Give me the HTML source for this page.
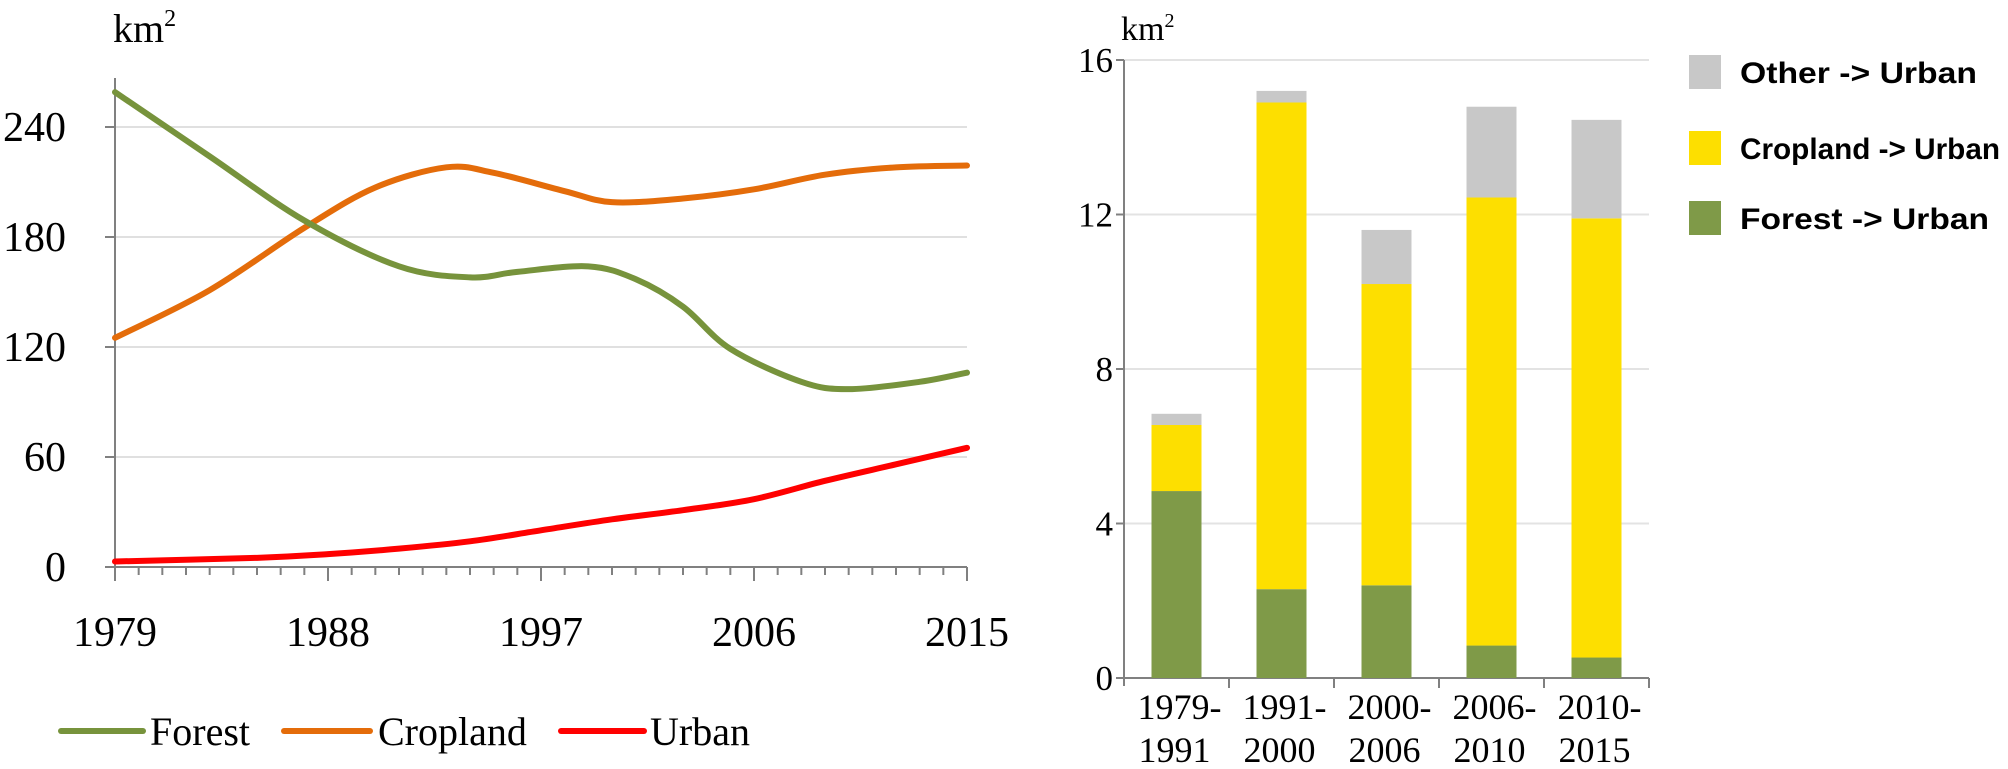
<!DOCTYPE html>
<html><head><meta charset="utf-8"><style>
html,body{margin:0;padding:0;background:#fff;}
svg{display:block;}
</style></head><body>
<svg id="c" width="2008" height="769" viewBox="0 0 2008 769" xmlns="http://www.w3.org/2000/svg"></svg>
<script>
// ---- Line chart data ----
const forestYears = [1979,1983,1987,1991,1994,1996,1999,2001,2003,2005,2008,2010,2013,2015];
const forestVals = [259,224,189,164,158,161,164,157,142,119,101,97,101,106];
const cropYears = [1979,1983,1987,1990,1993,1995,1998,2000,2003,2006,2009,2012,2015];
const croplandVals = [125,151,185,207,218,215,205,199,201,206,214,218,219];
const urbanYears = [1979,1985,1988,1991,1994,1997,2000,2003,2006,2009,2012,2015];
const urbanVals = [3,5,7,10,14,20,26,31,37,47,56,65];
const lineYTicks = [0,60,120,180,240];
const lineXLabels = [1979,1988,1997,2006,2015];
// ---- Bar chart data ----
const periods = [["1979-","1991"],["1991-","2000"],["2000-","2006"],["2006-","2010"],["2010-","2015"]];
const forestUrban = [4.84,2.3,2.4,0.84,0.53];
const croplandUrban = [1.71,12.6,7.8,11.6,11.37];
const otherUrban = [0.29,0.3,1.4,2.35,2.55];
const barYTicks = [0,4,8,12,16];

const NS="http://www.w3.org/2000/svg";
const svg=document.getElementById('c');
function mk(tag,attrs,parent){const e=document.createElementNS(NS,tag);for(const k in attrs)e.setAttribute(k,attrs[k]);(parent||svg).appendChild(e);return e;}

// Left axes
const lx0=115,lx1=967,ly0=567,lyPer=(567-127)/240;
const X=y=>lx0+(y-1979)*(lx1-lx0)/36;
const Y=v=>ly0-v*lyPer;
lineYTicks.forEach(t=>{
  if(t>0){const g=mk('line',{x1:lx0,x2:lx1,y1:Y(t),y2:Y(t),stroke:'#e0e0e0','stroke-width':2});
  
  }
  const tk=mk('line',{x1:lx0-10,x2:lx0,y1:Y(t),y2:Y(t),stroke:'#808080','stroke-width':2});
  
  
  const tx=mk('text',{x:66,y:Y(t)+14,'text-anchor':'end','font-family':'Liberation Serif, serif','font-size':42,fill:'#000'});
  tx.textContent=t;
  
  
});
const ya=mk('line',{x1:lx0,x2:lx0,y1:78,y2:ly0,stroke:'#808080','stroke-width':2});


const xa=mk('line',{x1:lx0-10,x2:lx1,y1:ly0,y2:ly0,stroke:'#808080','stroke-width':2});


for(let yr=1979;yr<=2015;yr++){
  const major=(yr-1979)%9===0;
  const t=mk('line',{x1:X(yr),x2:X(yr),y1:ly0,y2:ly0+(major?14:8),stroke:'#808080','stroke-width':2});
  
  
}
lineXLabels.forEach(yr=>{
  const t=mk('text',{x:X(yr),y:646,'text-anchor':'middle','font-family':'Liberation Serif, serif','font-size':42});
  t.textContent=yr;
  
  
});
const km1=mk('text',{x:113,y:42,'font-family':'Liberation Serif, serif','font-size':40});
km1.innerHTML='km<tspan font-size="24" dy="-16">2</tspan>';



function smooth(pts){
  let d='M'+pts[0][0]+','+pts[0][1];
  for(let i=0;i<pts.length-1;i++){
    const p0=pts[Math.max(0,i-1)],p1=pts[i],p2=pts[i+1],p3=pts[Math.min(pts.length-1,i+2)];
    const c1=[p1[0]+(p2[0]-p0[0])/6,p1[1]+(p2[1]-p0[1])/6];
    const c2=[p2[0]-(p3[0]-p1[0])/6,p2[1]-(p3[1]-p1[1])/6];
    d+=' C'+c1.join(',')+' '+c2.join(',')+' '+p2.join(',');
  }
  return d;
}
function series(xs,vs,color,name){
  const p=mk('path',{d:smooth(xs.map((yr,i)=>[X(yr),Y(vs[i])])),fill:'none',stroke:color,'stroke-width':6,'stroke-linecap':'round'});
  
  
}
series(cropYears,croplandVals,'#e46c0a','cropland-line');
series(forestYears,forestVals,'#77933c','forest-line');
series(urbanYears,urbanVals,'#ff0000','urban-line');

// Left legend
[['#77933c','Forest',61,143,150],['#e46c0a','Cropland',284,370,378],['#ff0000','Urban',561,644,650]].forEach(l=>{
  const g=mk('g',{});
  
  
  mk('line',{x1:l[2],x2:l[3],y1:731,y2:731,stroke:l[0],'stroke-width':6,'stroke-linecap':'round'},g);
  const t=mk('text',{x:l[4],y:745,'font-family':'Liberation Serif, serif','font-size':40},g);
  t.textContent=l[1];
});

// Bar chart
const bx0=1124,bx1=1649,by0=678,byPer=(678-60)/16,cw=(bx1-bx0)/5,bw=50;
const BY=v=>by0-v*byPer;
barYTicks.forEach(t=>{
  if(t>0){const g=mk('line',{x1:bx0,x2:bx1,y1:BY(t),y2:BY(t),stroke:'#e3e3e3','stroke-width':2});
  
  }
  const tk=mk('line',{x1:bx0-8,x2:bx0,y1:BY(t),y2:BY(t),stroke:'#808080','stroke-width':2});
  
  
  const tx=mk('text',{x:1113,y:BY(t)+12,'text-anchor':'end','font-family':'Liberation Serif, serif','font-size':35});
  tx.textContent=t;
  
  
});
const bya=mk('line',{x1:bx0,x2:bx0,y1:60,y2:by0+8,stroke:'#808080','stroke-width':2});


const bxa=mk('line',{x1:bx0-8,x2:bx1,y1:by0,y2:by0,stroke:'#808080','stroke-width':2});


for(let i=1;i<=5;i++){
  const t=mk('line',{x1:bx0+i*cw,x2:bx0+i*cw,y1:by0,y2:by0+10,stroke:'#808080','stroke-width':2});
  
  
}
const km2=mk('text',{x:1121,y:40,'font-family':'Liberation Serif, serif','font-size':34});
km2.innerHTML='km<tspan font-size="20" dy="-13">2</tspan>';


periods.forEach((p,i)=>{
  const cx=bx0+cw*(i+0.5);
  let base=0;
  [[forestUrban,'#7f9a48','forest'],[croplandUrban,'#fddf00','cropland'],[otherUrban,'#c8c8c8','other']].forEach(s=>{
    const v=s[0][i];
    const r=mk('rect',{x:cx-bw/2,y:BY(base+v),width:bw,height:BY(base)-BY(base+v),fill:s[1]});
    
    
    base+=v;
  });
  const t1=mk('text',{x:cx+3,y:719,'text-anchor':'middle','font-family':'Liberation Serif, serif','font-size':36});
  t1.textContent=p[0];
  
  
  const t2=mk('text',{x:cx-2,y:762,'text-anchor':'middle','font-family':'Liberation Serif, serif','font-size':36});
  t2.textContent=p[1];
  
  
});
// Bar legend
[['#c8c8c8','Other -> Urban',72,237],['#fddf00','Cropland -> Urban',148,260],['#7f9a48','Forest -> Urban',218,249]].forEach(l=>{
  const g=mk('g',{});
  
  
  mk('rect',{x:1689,y:l[2]-17,width:32,height:34,fill:l[0]},g);
  const t=mk('text',{x:1740,y:l[2]+11,'font-family':'Liberation Sans, sans-serif','font-weight':'bold','font-size':30,textLength:l[3],lengthAdjust:'spacingAndGlyphs'},g);
  t.textContent=l[1];
});
</script>
</body></html>
